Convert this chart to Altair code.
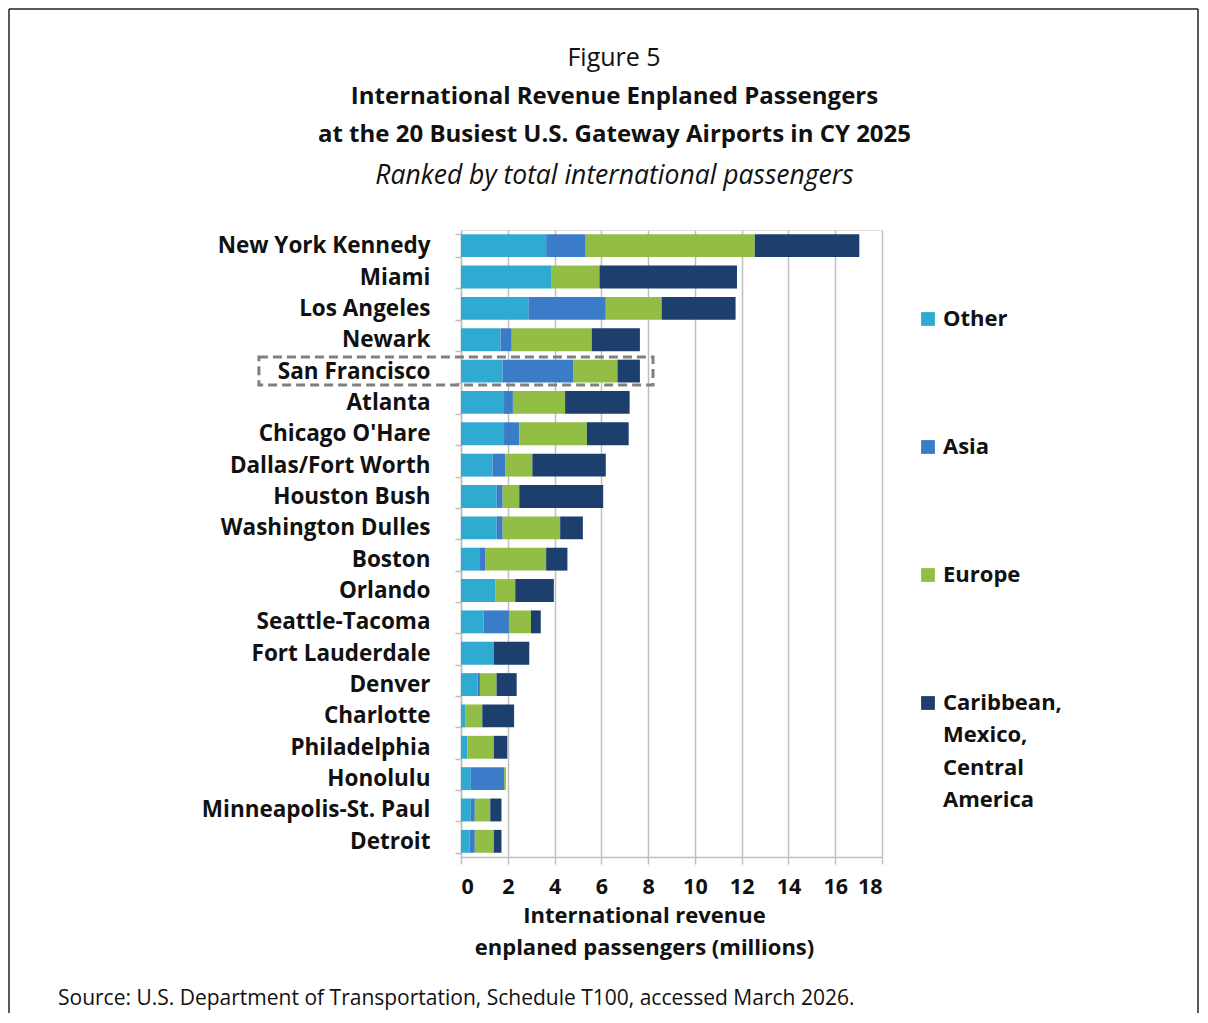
import altair as alt
import pandas as pd

airports = ["New York Kennedy", "Miami", "Los Angeles", "Newark", "San Francisco",
            "Atlanta", "Chicago O'Hare", "Dallas/Fort Worth", "Houston Bush",
            "Washington Dulles", "Boston", "Orlando", "Seattle-Tacoma",
            "Fort Lauderdale", "Denver", "Charlotte", "Philadelphia", "Honolulu",
            "Minneapolis-St. Paul", "Detroit"]
other  = [3.64, 3.85, 2.88, 1.69, 1.78, 1.84, 1.84, 1.35, 1.52, 1.52, 0.81, 1.46, 0.96, 1.40, 0.71, 0.20, 0.27, 0.42, 0.42, 0.37]
asia   = [1.69, 0.00, 3.31, 0.48, 3.01, 0.38, 0.65, 0.55, 0.26, 0.26, 0.22, 0.00, 1.09, 0.00, 0.10, 0.00, 0.00, 1.42, 0.17, 0.22]
europe = [7.23, 2.07, 2.39, 3.42, 1.90, 2.23, 2.89, 1.15, 0.71, 2.46, 2.61, 0.86, 0.94, 0.00, 0.71, 0.71, 1.13, 0.04, 0.66, 0.81]
carib  = [4.47, 5.88, 3.16, 2.06, 0.96, 2.76, 1.79, 3.14, 3.59, 0.97, 0.91, 1.65, 0.42, 1.52, 0.86, 1.36, 0.58, 0.02, 0.48, 0.33]

regions = ["Other", "Asia", "Europe", "Caribbean, Mexico, Central America"]
colors = ["#2FAAD0", "#3B7CC8", "#93BE45", "#1C3F6E"]

highlight_airport = ["San Francisco"]
highlight_start = [-8.64]
highlight_end = [8.21]

rows = []
for i, a in enumerate(airports):
    for j, (r, vals) in enumerate(zip(regions, [other, asia, europe, carib])):
        rows.append({"airport": a, "region": r, "value": vals[i], "ord": j})
df = pd.DataFrame(rows)

FONT = "Open Sans"
INK = "#111"

yenc = alt.Y("airport:N", sort=airports,
             scale=alt.Scale(paddingInner=0.27, paddingOuter=0.135),
             axis=alt.Axis(title=None, labelFont=FONT, labelFontSize=22.5, labelFontWeight="bold",
                           labelColor=INK, tickBand="extent", tickSize=6, tickColor="#BFBFBF",
                           tickWidth=1.5, domainColor="#BFBFBF", domainWidth=1.5, labelPadding=25,
                           labelLimit=400))

bars = alt.Chart(df).mark_bar().encode(
    x=alt.X("value:Q", stack="zero",
            scale=alt.Scale(domain=[0, 18], nice=False),
            axis=alt.Axis(values=list(range(0, 19, 2)), title=["International revenue", "enplaned passengers (millions)"],
                          labelFont=FONT, labelFontSize=21.5, labelFontWeight="bold", labelColor=INK,
                          titleFont=FONT, titleFontSize=22, titleFontWeight="bold", titleColor=INK,
                          titleLineHeight=32, titleX=183, titleY=48, titleBaseline="top", titleAnchor="start",
                          titleAlign="center",
                          grid=True, gridColor="#BFBFBF", gridWidth=1.5, tickColor="#BFBFBF", tickWidth=1.5,
                          tickSize=7, domainColor="#BFBFBF", domainWidth=1.5, labelPadding=12)),
    y=yenc,
    color=alt.Color("region:N", scale=alt.Scale(domain=regions, range=colors),
                    legend=alt.Legend(title=None, orient="none", legendX=456, legendY=78,
                                      symbolType="square", symbolSize=190, symbolStrokeWidth=0,
                                      labelFont=FONT, labelFontSize=22, labelFontWeight="bold",
                                      labelColor=INK, rowPadding=106, labelOffset=4,
                                      labelExpr="datum.label == 'Caribbean, Mexico, Central America' ? ['Caribbean,', 'Mexico,', 'Central', 'America'] : datum.label")),
    order=alt.Order("ord:Q", sort="ascending"),
)

hl = alt.Chart(pd.DataFrame({"airport": highlight_airport, "start": highlight_start, "end": highlight_end})).mark_bar(
    filled=False, stroke="#808080", strokeWidth=3, strokeDash=[9, 5], size=28, clip=False
).encode(
    x=alt.X("start:Q"), x2="end:Q", y=alt.Y("airport:N", sort=airports)
)

one = pd.DataFrame({"t": ["Figure 5"]})
fig5 = alt.Chart(one).mark_text(font=FONT, fontSize=25, color=INK, baseline="middle").encode(
    x=alt.value(153), y=alt.value(-172), text="t:N")

src = alt.Chart(pd.DataFrame({"t": ["Source:  U.S. Department of Transportation, Schedule T100, accessed March 2026."]})).mark_text(
    font=FONT, fontSize=21, color=INK, align="left", baseline="middle").encode(
    x=alt.value(-403), y=alt.value(769), text="t:N")

# frame: left, top and right edges of the surrounding box
frame_left = alt.Chart(one).mark_rule(stroke="#222", strokeWidth=1.5, clip=False).encode(
    x=alt.value(-452), y=alt.value(-221), y2=alt.value(790))
frame_top = alt.Chart(one).mark_rule(stroke="#222", strokeWidth=1.5, clip=False).encode(
    x=alt.value(-452), x2=alt.value(737), y=alt.value(-221))
frame_right = alt.Chart(one).mark_rule(stroke="#222", strokeWidth=1.5, clip=False).encode(
    x=alt.value(737), y=alt.value(-221), y2=alt.value(790))

chart = alt.layer(frame_left, frame_top, frame_right, bars, hl, fig5, src).properties(
    width=421, height=627,
    padding={"left": 453, "top": 222, "right": 318, "bottom": 156},
    autosize=alt.AutoSizeParams(type="none"),
    title=alt.TitleParams(
        text=["International Revenue Enplaned Passengers", "at the 20 Busiest U.S. Gateway Airports in CY 2025"],
        subtitle="Ranked by total international passengers",
        font=FONT, fontSize=24, fontWeight="bold", color=INK, lineHeight=38,
        subtitleFont=FONT, subtitleFontSize=26.5, subtitleFontStyle="italic", subtitleFontWeight="normal",
        subtitleColor=INK, subtitlePadding=16, anchor="middle", frame="group", dx=-57, offset=-181),
).configure_view(stroke="#BFBFBF", strokeWidth=1.5).configure(
    background="white", style={"guide-label": {"lineHeight": 32.3}})

chart.save("out.html", embed_options={"renderer": "svg", "actions": False})
